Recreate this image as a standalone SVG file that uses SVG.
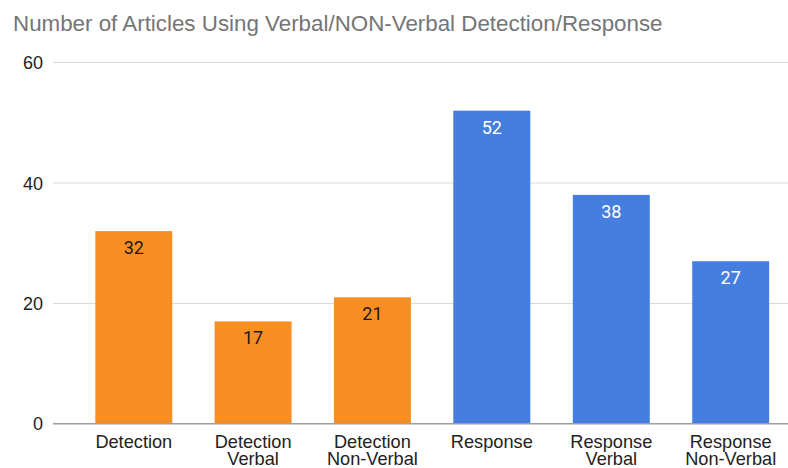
<svg xmlns="http://www.w3.org/2000/svg" width="788" height="468" viewBox="0 0 788 468">
  <style>
    .title { font-family: "Liberation Sans", Arial, sans-serif; font-size: 22.35px; fill: #757575; }
    .tick { font-family: "Liberation Sans", Arial, sans-serif; font-size: 18px; fill: #222222; text-anchor: end; }
    .cat { font-family: "Liberation Sans", Arial, sans-serif; font-size: 18.2px; fill: #222222; text-anchor: middle; }
    .grid { stroke: #d9d9d9; stroke-width: 1; }
    .axis { stroke: #9e9e9e; stroke-width: 1.5; }
    .det { fill: #f98f23; }
    .res { fill: #467ee0; }
    .val { font-family: Roboto, "Liberation Sans", sans-serif; font-size: 18px; text-anchor: middle; }
    .val-dark { fill: #1a1a1a; }
    .val-light { fill: #ffffff; }
  </style>
  <rect width="788" height="468" fill="#ffffff"/>
  <text class="title" x="13" y="31">Number of Articles Using Verbal/NON-Verbal Detection/Response</text>

  <!-- gridlines and value axis -->
  <g id="axes">
    <line class="grid" x1="53" y1="62.5" x2="788" y2="62.5"/>
    <line class="grid" x1="53" y1="183" x2="788" y2="183"/>
    <line class="grid" x1="53" y1="303.5" x2="788" y2="303.5"/>
    <text class="tick" x="43" y="69">60</text>
    <text class="tick" x="43" y="189.5">40</text>
    <text class="tick" x="43" y="310">20</text>
    <text class="tick" x="43" y="430">0</text>
  </g>

  <!-- bars: 6.02 px per article, baseline at y=423.7 -->
  <g id="bar-detection">
    <rect class="det" x="95.3" y="231.1" width="77" height="192.6"/>
    <text class="val val-dark" x="133.8" y="253.5">32</text>
    <text class="cat" x="133.8" y="447.5">Detection</text>
  </g>
  <g id="bar-detection-verbal">
    <rect class="det" x="214.6" y="321.4" width="77" height="102.3"/>
    <text class="val val-dark" x="253.1" y="343.5">17</text>
    <text class="cat" x="253.1" y="447.5">Detection</text>
    <text class="cat" x="253.1" y="465">Verbal</text>
  </g>
  <g id="bar-detection-nonverbal">
    <rect class="det" x="333.9" y="297.3" width="77" height="126.4"/>
    <text class="val val-dark" x="372.4" y="319.5">21</text>
    <text class="cat" x="372.4" y="447.5">Detection</text>
    <text class="cat" x="372.4" y="465">Non-Verbal</text>
  </g>
  <g id="bar-response">
    <rect class="res" x="453.3" y="110.7" width="77" height="313"/>
    <text class="val val-light" x="491.8" y="133.5">52</text>
    <text class="cat" x="491.8" y="447.5">Response</text>
  </g>
  <g id="bar-response-verbal">
    <rect class="res" x="572.8" y="194.9" width="77" height="228.8"/>
    <text class="val val-light" x="611.3" y="217.5">38</text>
    <text class="cat" x="611.3" y="447.5">Response</text>
    <text class="cat" x="611.3" y="465">Verbal</text>
  </g>
  <g id="bar-response-nonverbal">
    <rect class="res" x="692.2" y="261.2" width="77" height="162.5"/>
    <text class="val val-light" x="730.7" y="283.5">27</text>
    <text class="cat" x="730.7" y="447.5">Response</text>
    <text class="cat" x="730.7" y="465">Non-Verbal</text>
  </g>

  <g id="baseline">
    <line class="axis" x1="53" y1="423.7" x2="788" y2="423.7"/>
  </g>
</svg>
